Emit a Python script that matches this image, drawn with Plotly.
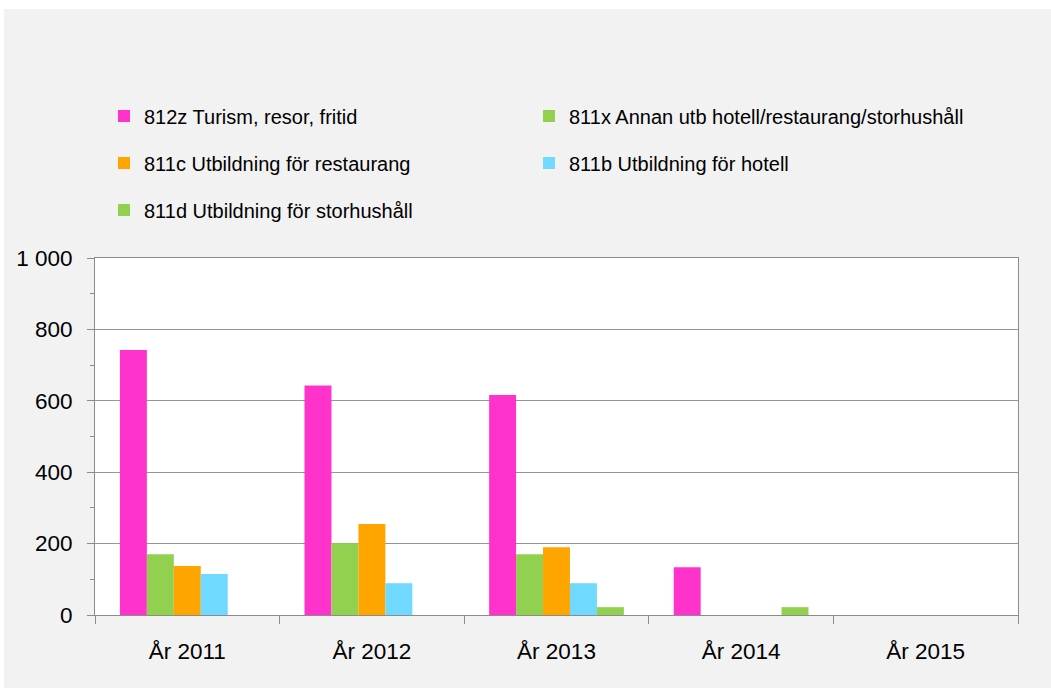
import plotly.graph_objects as go

categories = ["År 2011", "År 2012", "År 2013", "År 2014", "År 2015"]
series_names = [
    "812z Turism, resor, fritid",
    "811x Annan utb hotell/restaurang/storhushåll",
    "811c Utbildning för restaurang",
    "811b Utbildning för hotell",
    "811d Utbildning för storhushåll",
]
v_812z = [742, 643, 616, 134, None]
v_811x = [170, 201, 170, None, None]
v_811c = [137, 255, 190, None, None]
v_811b = [115, 89, 89, None, None]
v_811d = [None, None, 22, 22, None]
colors = ["#FF33CC", "#92D050", "#FFA500", "#6FD9FF", "#92D050"]
y_ticks = [0, 200, 400, 600, 800, 1000]

values = [v_812z, v_811x, v_811c, v_811b, v_811d]

W, H = 1051, 688
L, R, T, B = 95, 33, 258, 73
pw, ph = W - L - R, H - T - B


def px_x(p):
    return (p - L) / pw


def px_y(p):
    return (H - B - p) / ph


# legend slot (column x px, row y px) for each series
legend_ids = ["legend", "legend2", "legend3", "legend4", "legend5"]
legend_pos = [(104, 116), (529, 116), (104, 163), (529, 163), (104, 210)]

fig = go.Figure()
for name, vals, col, lg in zip(series_names, values, colors, legend_ids):
    fig.add_trace(go.Bar(x=categories, y=vals, name=name, marker_color=col,
                         marker_line_width=0, legend=lg, showlegend=True))

font = "Liberation Sans, Arial, sans-serif"
legend_common = dict(orientation="h",
                     font=dict(family=font, size=20, color="#000000"),
                     bgcolor="rgba(0,0,0,0)", xanchor="left", yanchor="middle",
                     itemclick=False, itemdoubleclick=False)

legends = {}
for lg, (lx, ly) in zip(legend_ids, legend_pos):
    legends[lg] = dict(x=px_x(lx), y=px_y(ly), **legend_common)

fig.update_layout(
    width=W, height=H,
    showlegend=True,
    margin=dict(l=L, r=R, t=T, b=B, pad=0),
    paper_bgcolor="#F2F2F2",
    plot_bgcolor="#FFFFFF",
    separators=", ",
    bargap=0.27, bargroupgap=0,
    barmode="group",
    font=dict(family=font, size=22, color="#000000"),
    shapes=[
        dict(type="rect", xref="paper", yref="paper", x0=-0.2, x1=1.2,
             y0=px_y(9), y1=px_y(-5), fillcolor="#FFFFFF", line_width=0, layer="below"),
        dict(type="rect", xref="paper", yref="paper", x0=px_x(-5), x1=px_x(4),
             y0=px_y(700), y1=px_y(-5), fillcolor="#FFFFFF", line_width=0, layer="below"),
    ],
    **legends,
)

fig.update_xaxes(
    type="category", tickson="boundaries", ticks="outside", ticklen=8,
    tickcolor="#8C8C8C", showline=True, linecolor="#8C8C8C", linewidth=1,
    mirror=True, showgrid=False, ticklabelstandoff=16,
    tickfont=dict(family=font, size=22.5, color="#000000"),
)
fig.update_yaxes(
    range=[0, 1000], tickvals=y_ticks, tickformat=",d", ticks="outside",
    ticklen=7, tickcolor="#8C8C8C", showline=True, linecolor="#8C8C8C",
    linewidth=1, mirror=True, showgrid=True, gridcolor="#969696", gridwidth=1,
    zeroline=False, ticklabelstandoff=10,
    minor=dict(dtick=100, ticks="outside", ticklen=4, tickcolor="#8C8C8C", showgrid=False),
    tickfont=dict(family=font, size=22.5, color="#000000"),
)

fig.write_html("out.html", config={"displayModeBar": False},
               post_script="document.body.style.margin='0';")
